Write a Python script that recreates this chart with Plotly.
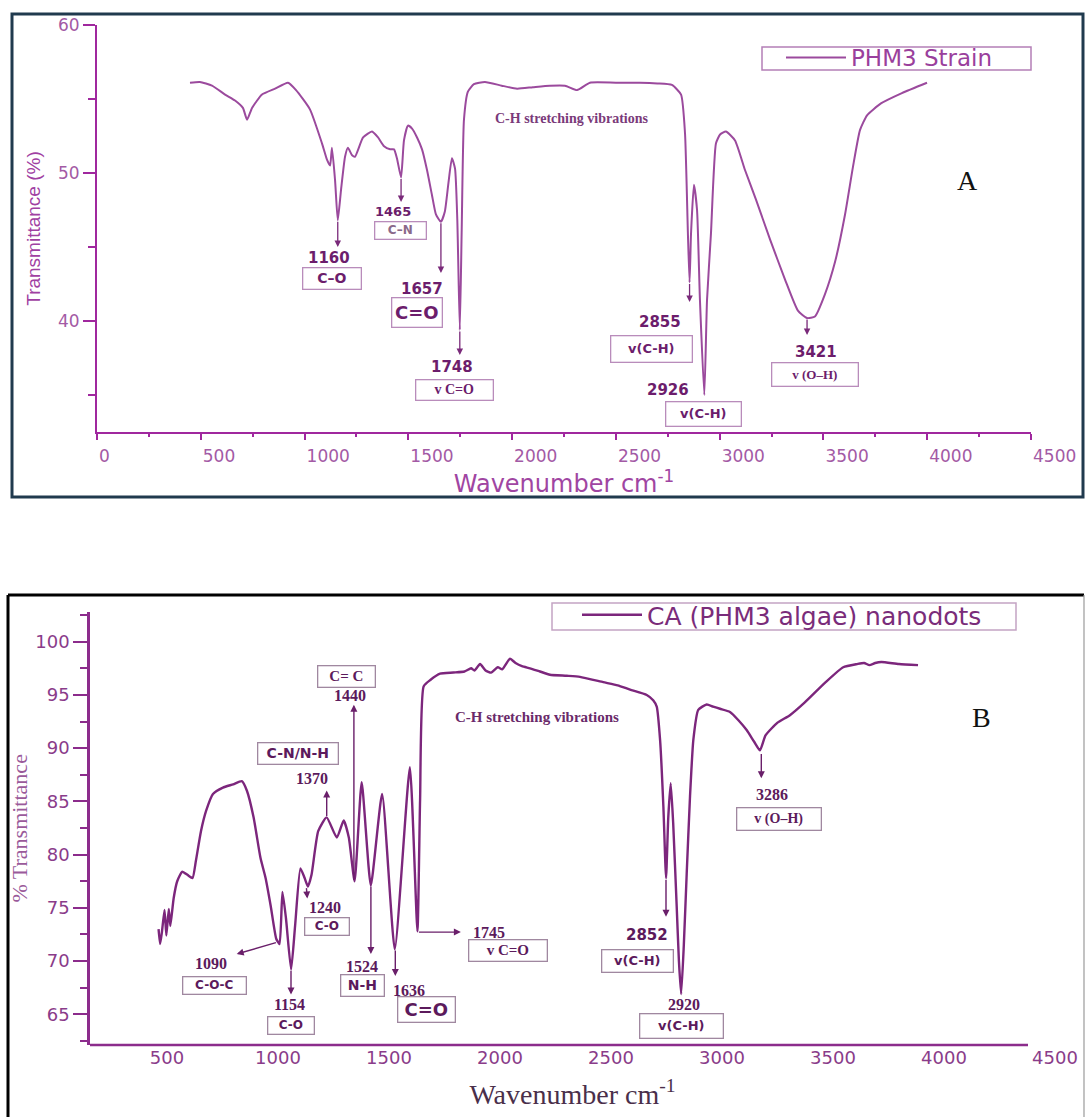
import math
import numpy as np
import plotly.graph_objects as go

# ---------------- data ----------------
# Panel A : PHM3 Strain
a_wavenumber = [448, 496, 554, 617, 665, 703, 723, 747, 795, 858, 920, 959, 1026, 1084, 1108, 1123, 1132, 1147,
                1160, 1176, 1195, 1209, 1229, 1243, 1282, 1325, 1354, 1383, 1412, 1431, 1445, 1465, 1479, 1498,
                1518, 1542, 1566, 1590, 1614, 1633, 1657, 1676, 1693, 1710, 1725, 1736, 1748, 1757, 1768, 1787,
                1816, 1869, 1950, 2024, 2100, 2182, 2255, 2313, 2375, 2500, 2616, 2700, 2770, 2814, 2833, 2847,
                2855, 2862, 2876, 2891, 2905, 2926, 2939, 2958, 2982, 3002, 3030, 3074, 3122, 3175, 3243, 3315,
                3377, 3421, 3459, 3507, 3556, 3604, 3642, 3676, 3710, 3777, 3878, 3999]
a_transmittance = [56.1, 56.15, 55.9, 55.3, 54.9, 54.4, 53.6, 54.4, 55.3, 55.7, 56.1, 55.6, 54.3, 52.0, 50.9, 50.5,
                   51.7, 49.5, 46.8, 48.9, 51.1, 51.7, 51.2, 51.1, 52.4, 52.8, 52.4, 51.8, 51.6, 51.6, 51.0, 49.7,
                   52.2, 53.2, 53.0, 52.4, 51.6, 50.2, 48.5, 47.2, 46.7, 47.4, 49.3, 51.0, 50.3, 46.8, 39.4, 46.1,
                   53.6, 55.5, 56.0, 56.15, 55.9, 55.7, 55.8, 55.9, 55.9, 55.6, 56.1, 56.1, 56.1, 56.05, 55.95,
                   55.3, 52.7, 45.9, 42.6, 45.9, 49.2, 47.5, 41.4, 35.0, 41.4, 45.9, 52.0, 52.6, 52.8, 52.2, 50.2,
                   48.2, 45.5, 42.8, 40.7, 40.2, 40.3, 41.8, 44.0, 47.2, 50.4, 52.9, 53.9, 54.7, 55.4, 56.1]

# Panel B : CA (PHM3 algae) nanodots
b_wavenumber = [462, 469, 477, 489, 497, 508, 515, 530, 546, 569, 592, 615, 630, 653, 676, 707, 752, 798, 837,
                860, 890, 921, 944, 967, 992, 1007, 1020, 1036, 1059, 1077, 1101, 1120, 1135, 1151, 1181, 1219,
                1265, 1296, 1319, 1345, 1377, 1418, 1469, 1526, 1594, 1628, 1640, 1656, 1686, 1730, 1790, 1840,
                1870, 1885, 1910, 1935, 1960, 1990, 2010, 2045, 2070, 2099, 2135, 2180, 2225, 2300, 2360, 2465,
                2530, 2586, 2661, 2690, 2706, 2721, 2736, 2748, 2758, 2769, 2780, 2796, 2806, 2816, 2828, 2841,
                2856, 2871, 2893, 2931, 2960, 2991, 3036, 3075, 3111, 3145, 3171, 3196, 3250, 3306, 3373, 3467,
                3546, 3609, 3640, 3664, 3690, 3718, 3797, 3883]
b_transmittance = [73.0, 71.6, 72.7, 74.8, 72.4, 74.9, 73.3, 75.9, 77.5, 78.4, 78.1, 77.8, 79.4, 82.2, 84.1, 85.7,
                   86.3, 86.6, 86.9, 86.0, 83.5, 79.7, 77.8, 75.2, 72.1, 71.6, 76.5, 74.0, 69.2, 73.3, 78.7, 77.8,
                   77.0, 78.1, 82.2, 83.5, 81.6, 83.2, 81.6, 77.5, 86.8, 77.1, 85.7, 71.1, 88.2, 72.8, 85.1, 95.8,
                   96.4, 97.0, 97.1, 97.2, 97.5, 97.3, 97.9, 97.3, 97.1, 97.6, 97.4, 98.4, 98.0, 97.7, 97.5, 97.2,
                   96.9, 96.8, 96.7, 96.2, 95.9, 95.5, 95.0, 94.5, 93.9, 90.8, 84.5, 77.8, 83.5, 86.7, 83.0, 75.1,
                   70.0, 66.9, 71.5, 78.2, 85.5, 90.8, 93.6, 94.1, 93.9, 93.7, 93.4, 92.6, 91.7, 90.6, 89.8, 91.2,
                   92.4, 93.1, 94.3, 96.2, 97.6, 97.9, 98.0, 97.8, 98.0, 98.1, 97.9, 97.8]

a_xticks = [0, 500, 1000, 1500, 2000, 2500, 3000, 3500, 4000, 4500]
a_xtick_labels = ["0", "500", "1000", "1500", "2000", "2500", "3000", "3500", "4000", "4500"]
a_yticks = [40, 50, 60]
a_ytick_labels = ["40", "50", "60"]
b_xticks = [500, 1000, 1500, 2000, 2500, 3000, 3500, 4000, 4500]
b_xtick_labels = ["500", "1000", "1500", "2000", "2500", "3000", "3500", "4000", "4500"]
b_yticks = [65, 70, 75, 80, 85, 90, 95, 100]
b_ytick_labels = ["65", "70", "75", "80", "85", "90", "95", "100"]

a_peak_labels = ["1160", "1465", "1657", "1748", "2855", "2926", "3421"]
a_group_labels = ["C–O", "C–N", "C=O", "v C=O", "v(C-H)", "v(C-H)", "v (O–H)"]
b_peak_labels = ["1090", "1154", "1240", "1370", "1440", "1524", "1636", "1745", "2852", "2920", "3286"]
b_group_labels = ["C-O-C", "C-O", "C-O", "C-N/N-H", "C= C", "N-H", "C=O", "v C=O", "v(C-H)", "v(C-H)", "v (O–H)"]

# ---------------- geometry helpers ----------------
W, H = 1086, 1117
def ppx(x): return x / W
def ppy(y): return 1 - y / H

# panel A pixel -> data
def ax_(p): return (p - 97) / (934 / 4500)
def ay_(p): return 60 - (p - 25) / (407 / 27.5)
# panel B pixel -> data
def bx_(p): return 500 + (p - 167) / 0.222
def by_(p): return 100 - (p - 641.7) / 10.646

SANS = "DejaVu Sans, Arial, sans-serif"
SERIF = "Liberation Serif, Times New Roman, serif"

A_LINE = "#9b4a9d"
A_AXIS = "#a0289e"
A_TICK = "#a35aa5"
A_TEXT = "#6c1d6c"
A_BOX = "#b98cbb"
B_LINE = "#7c267c"
B_AXIS = "#8c2c8c"
B_TICK = "#8a3c8a"
B_TEXT = "#5c1a5c"
B_BOX = "#a088a0"

fig = go.Figure()
fig.add_trace(go.Scatter(x=a_wavenumber, y=a_transmittance, mode="lines", name="PHM3 Strain",
                         line=dict(color=A_LINE, width=2, shape="spline", smoothing=0.5),
                         xaxis="x", yaxis="y", legend="legend"))
fig.add_trace(go.Scatter(x=b_wavenumber, y=b_transmittance, mode="lines", name="CA (PHM3 algae) nanodots",
                         line=dict(color=B_LINE, width=2.4, shape="spline", smoothing=0.5),
                         xaxis="x2", yaxis="y2", legend="legend2"))

ann = []
def text_ann(xr, yr, x, y, text, size, color, family, w=None, h=None, border=None, bw=1):
    d = dict(xref=xr, yref=yr, x=x, y=y, text=text, showarrow=False, xanchor="center", yanchor="middle",
             font=dict(size=size, color=color, family=family))
    if border:
        d.update(bordercolor=border, borderwidth=bw, borderpad=0, bgcolor="rgba(255,255,255,0)")
        d["width"] = w + 2
        d["height"] = max(h + 2, math.ceil(size * 1.3))
    ann.append(d)

def arrow_ann(xr, yr, x, y, axv, ayv, color, width=1.3):
    ann.append(dict(xref=xr, yref=yr, axref=xr, ayref=yr, x=x, y=y, ax=axv, ay=ayv, text="",
                    showarrow=True, arrowhead=2, arrowsize=1, arrowwidth=width, arrowcolor=color,
                    standoff=0, startstandoff=0))

# ---- panel A annotations ----
a_arrows = [("1160", 247), ("1465", 202), ("1657", 273), ("1748", 355), ("2855", 302), ("3421", 335)]
for lab, tip in a_arrows:
    wn = float(lab)
    yv = float(np.interp(wn, a_wavenumber, a_transmittance))
    arrow_ann("x", "y", wn, ay_(tip), wn, yv, "#7a2a7a")

a_num_pos = [(329, 258, 15), (393, 212, 13), (422, 289, 15), (452, 367, 15), (660, 322, 15), (668, 390, 15), (816, 352, 15)]
for lab, (xp, yp, s) in zip(a_peak_labels, a_num_pos):
    text_ann("x", "y", ax_(xp), ay_(yp), "<b>%s</b>" % lab, s, A_TEXT, SANS)

a_box_pos = [(332, 279, 55, 18, 14), (400, 231, 48, 12, 12), (417, 313, 47, 26, 18), (454, 390, 74, 16, 14),
             (651, 349, 78, 23, 13), (703, 414, 72, 21, 13), (815, 375, 83, 20, 13)]
for lab, (xp, yp, w, h, s) in zip(a_group_labels, a_box_pos):
    fam = SERIF if lab in ("v C=O", "v (O–H)") else SANS
    col = "#8a6a8a" if lab == "C–N" else A_TEXT
    text_ann("x", "y", ax_(xp), ay_(yp), "<b>%s</b>" % lab, s, col, fam, w=w, h=h, border=A_BOX, bw=1.3)

text_ann("x", "y", ax_(572), ay_(119), "<b>C-H stretching vibrations</b>", 14, "#7a3a7a", SERIF)
text_ann("paper", "paper", ppx(967), ppy(180), "A", 28, "#111111", SERIF)

# ---- panel B annotations ----
b_arrows = [((277.4, 942.2), (236.7, 954.0)), ((291, 969.2), (291, 994.4)), ((306.3, 886.6), (307.3, 898.4)),
            ((326.7, 817.6), (326.7, 790.6)), ((353.9, 881.6), (353.9, 704.7)), ((370.9, 885), (370.9, 954)),
            ((395.3, 949), (395.3, 975.9)), ((417.4, 932.1), (460.9, 932.1)), ((666, 878.3), (666, 916.7)),
            ((761.3, 752.6), (761.3, 778.3))]
for (tx, ty), (hx, hy) in b_arrows:
    arrow_ann("x2", "y2", bx_(hx), by_(hy), bx_(tx), by_(ty), "#6a1f6a", 1.4)

b_num_pos = [(211, 963, SERIF), (289, 1004, SERIF), (325, 907, SERIF), (312, 778, SERIF), (349.5, 695, SERIF),
             (362, 966, SERIF), (409, 990, SERIF), (489, 932, SERIF), (647, 935, SANS), (684, 1004, SERIF),
             (772, 794, SERIF)]
for lab, (xp, yp, fam) in zip(b_peak_labels, b_num_pos):
    text_ann("x2", "y2", bx_(xp), by_(yp), "<b>%s</b>" % lab, 16 if fam == SERIF else 15, B_TEXT, fam)

b_box_pos = [(214, 985, 60, 13, 12, SANS), (291, 1025.5, 43, 13, 12, SANS), (327, 926, 41, 13, 12, SANS),
             (298, 753, 77, 18, 14, SANS), (346, 676.5, 54, 16, 15, SERIF), (362, 985, 40, 18, 14, SANS),
             (426, 1009, 54, 18, 18, SANS), (508, 950, 75, 17, 15, SERIF), (637.5, 961, 68, 19, 13, SANS),
             (681, 1026, 80, 21, 13, SANS), (779, 819, 81, 19, 14, SERIF)]
for lab, (xp, yp, w, h, s, fam) in zip(b_group_labels, b_box_pos):
    text_ann("x2", "y2", bx_(xp), by_(yp), "<b>%s</b>" % lab, s, B_TEXT, fam, w=w, h=h, border=B_BOX, bw=1.3)

text_ann("x2", "y2", bx_(537), by_(717), "<b>C-H stretching vibrations</b>", 15, "#6a2a6a", SERIF)
text_ann("paper", "paper", ppx(981), ppy(717), "B", 28, "#111111", SERIF)

# ---------------- shapes: frames, legend boxes and B x-axis line ----------------
shapes = [
    dict(type="rect", xref="paper", yref="paper", x0=ppx(12), x1=ppx(1083), y0=ppy(497), y1=ppy(14),
         line=dict(color="#203a4e", width=3)),
    dict(type="line", xref="paper", yref="paper", x0=ppx(8), x1=ppx(1084), y0=ppy(595), y1=ppy(595),
         line=dict(color="#000000", width=3)),
    dict(type="line", xref="paper", yref="paper", x0=ppx(8), x1=ppx(8), y0=ppy(595), y1=0,
         line=dict(color="#000000", width=3)),
    dict(type="line", xref="paper", yref="paper", x0=ppx(1084), x1=ppx(1084), y0=ppy(595), y1=0,
         line=dict(color="#9a9a9a", width=1.2)),
    dict(type="line", xref="x2", yref="y2 domain", x0=bx_(90), x1=bx_(1028), y0=0, y1=0,
         line=dict(color=B_AXIS, width=2.5)),
    # legend frames
    dict(type="rect", xref="paper", yref="paper", x0=ppx(762), x1=ppx(1031), y0=ppy(70), y1=ppy(47),
         line=dict(color="#b47fb6", width=1.5), fillcolor="white", layer="above"),
    dict(type="rect", xref="paper", yref="paper", x0=ppx(552), x1=ppx(1016), y0=ppy(630), y1=ppy(603),
         line=dict(color="#c4a4c4", width=1.5), fillcolor="white", layer="above"),
]

fig.update_layout(
    width=W, height=H, margin=dict(l=0, r=0, t=0, b=0),
    paper_bgcolor="white", plot_bgcolor="white",
    showlegend=True,
    annotations=ann, shapes=shapes,
    xaxis=dict(domain=[ppx(97), ppx(1031)], range=[0, 4500], anchor="y", showgrid=False, zeroline=False,
               showline=True, linecolor=A_AXIS, linewidth=2, ticks="outside", ticklen=6, tickwidth=2,
               tickcolor=A_AXIS, tickvals=a_xticks, ticktext=a_xtick_labels, ticklabelposition="outside right",
               ticklabelstandoff=8,
               tickfont=dict(family=SANS, size=17, color=A_TICK),
               minor=dict(dtick=250, tick0=0, ticks="outside", ticklen=3, tickwidth=2, tickcolor=A_AXIS, showgrid=False),
               title=dict(text="Wavenumber cm<sup>-1</sup>", font=dict(family=SANS, size=24, color="#a045a2"), standoff=5),
               automargin=False),
    yaxis=dict(domain=[ppy(432), ppy(25)], range=[32.5, 60], anchor="x", showgrid=False, zeroline=False,
               showline=True, linecolor=A_AXIS, linewidth=2, ticks="outside", ticklen=12, tickwidth=2,
               tickcolor=A_AXIS, tickvals=a_yticks, ticktext=a_ytick_labels,
               tickfont=dict(family=SANS, size=17, color=A_TICK),
               minor=dict(tickvals=[35, 45, 55], ticks="outside", ticklen=7, tickwidth=2, tickcolor=A_AXIS, showgrid=False),
               title=dict(text="Transmittance (%)", font=dict(family="Liberation Sans Narrow, Arial Narrow, Liberation Sans, Arial", size=19, color="#a040a2"), standoff=12),
               automargin=False),
    xaxis2=dict(domain=[ppx(90), ppx(1055)], range=[bx_(90), 4500], anchor="y2", showgrid=False, zeroline=False,
                showline=False, ticks="", tickvals=b_xticks, ticktext=b_xtick_labels,
                tickfont=dict(family=SANS, size=18, color=B_TICK),
                title=dict(text="Wavenumber cm<sup>-1</sup>", font=dict(family=SERIF, size=28, color="#4a2f4a"), standoff=17),
                automargin=False),
    yaxis2=dict(domain=[ppy(1045), ppy(611.7)], range=[by_(1045), by_(611.7)], anchor="x2", showgrid=False,
                zeroline=False, showline=True, linecolor=B_AXIS, linewidth=2.5, ticks="outside", ticklen=14,
                tickwidth=2, tickcolor=B_AXIS, tickvals=b_yticks, ticktext=b_ytick_labels,
                tickfont=dict(family=SANS, size=18, color=B_TICK),
                minor=dict(dtick=2.5, tick0=0, ticks="outside", ticklen=7, tickwidth=2, tickcolor=B_AXIS, showgrid=False),
                title=dict(text="% Transmittance", font=dict(family=SERIF, size=22, color="#9a5a9a"), standoff=2),
                automargin=False),
    legend=dict(x=ppx(781), y=ppy(36), xanchor="left", yanchor="top", bgcolor="rgba(0,0,0,0)",
                borderwidth=0, itemwidth=60,
                font=dict(family=SANS, size=23, color="#9a3f9c")),
    legend2=dict(x=ppx(577), y=ppy(592), xanchor="left", yanchor="top", bgcolor="rgba(0,0,0,0)",
                 borderwidth=0, itemwidth=60,
                 font=dict(family=SANS, size=25, color="#7a2c7a")),
)

fig.write_html("out.html")
